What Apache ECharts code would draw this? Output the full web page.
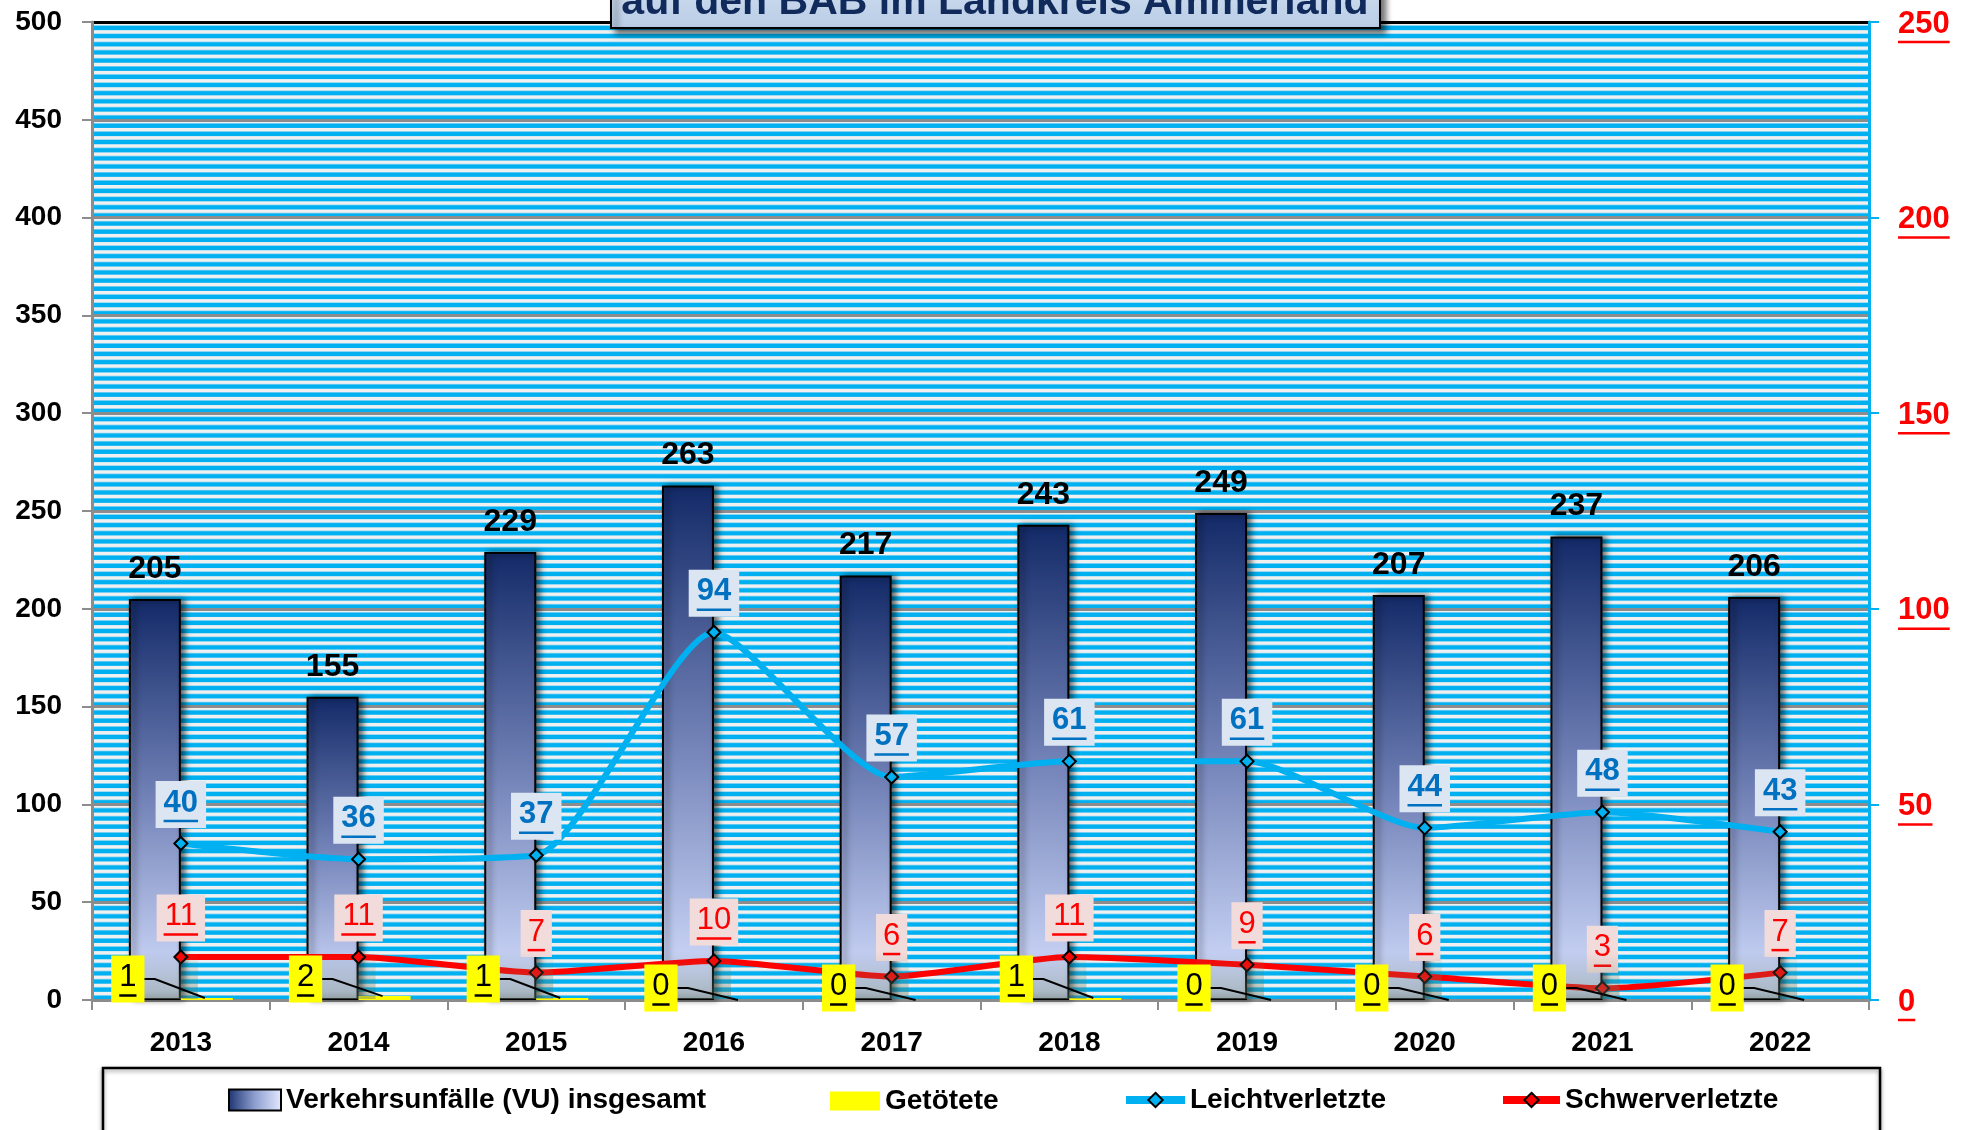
<!DOCTYPE html>
<html>
<head>
<meta charset="utf-8">
<title>Verkehrsunfälle BAB Ammerland</title>
<script src="https://cdn.jsdelivr.net/npm/echarts@6/dist/echarts.min.js"></script>
<style>
  html, body { margin: 0; padding: 0; background: #fff; }
  #chart { width: 1968px; height: 1130px; }
</style>
</head>
<body>
<div id="chart"></div>
<script>
  // Daten
  var jahre = ['2013', '2014', '2015', '2016', '2017', '2018', '2019', '2020', '2021', '2022'];
  var unfaelle = [205, 155, 229, 263, 217, 243, 249, 207, 237, 206];
  var getoetete = [1, 2, 1, 0, 0, 1, 0, 0, 0, 0];
  var leichtverletzte = [40, 36, 37, 94, 57, 61, 61, 44, 48, 43];
  var schwerverletzte = [11, 11, 7, 10, 6, 11, 9, 6, 3, 7];
  // Achsen: links 0..500, rechts 0..250, Schritt 50
  var achseLinks = [0, 500];
  var achseRechts = [0, 250];
  var schritt = 50;

  var schrift = 'Liberation Sans, Arial, sans-serif';

  // Zeichenfläche (Plotbereich)
  var gx = 92, gy = 22, gw = 1968 - 92 - 99, gh = 1130 - 22 - 130;
  var balken = 52;

  // gestreifter Hintergrund wie im Excel-Muster
  var streifen = document.createElement('canvas');
  streifen.width = gw;
  streifen.height = gh;
  var ctx = streifen.getContext('2d');
  ctx.fillStyle = '#f0f0f0';
  ctx.fillRect(0, 0, gw, gh);
  var periode = gh / 120;
  for (var i = 0; i < 120; i++) {
    var y0 = i * periode;
    ctx.fillStyle = '#7fd3f3';
    ctx.fillRect(0, y0 + periode * 0.40, gw, periode * 0.1);
    ctx.fillStyle = '#00b0f0';
    ctx.fillRect(0, y0 + periode * 0.48, gw, periode * 0.52);
  }

  // Unterstrichene Zahlen über rich text
  function unterstrichen(farbe, gewicht) {
    var groesse = 31;
    var ziffer = groesse * 0.556;
    var basis = { height: 2.5, lineHeight: 6, backgroundColor: farbe, align: 'center' };
    return {
      t: { fontSize: groesse, fontWeight: gewicht || 'normal', fontFamily: schrift, color: farbe, lineHeight: 30, align: 'center' },
      u1: Object.assign({ width: ziffer }, basis),
      u2: Object.assign({ width: ziffer * 2 }, basis),
      u3: Object.assign({ width: ziffer * 3 }, basis)
    };
  }
  function mitStrich(v) {
    v = String(v);
    return '{t|' + v + '}\n{u' + v.length + '|}';
  }

  var gitterFarben = [];
  for (var k = 0; k <= achseLinks[1] / schritt; k++) {
    gitterFarben.push(k === achseLinks[1] / schritt ? '#000' : '#8c8c8c');
  }

  var legendeText = { fontSize: 28, fontWeight: 'bold', color: '#000', fontFamily: schrift };
  var gelbRich = unterstrichen('#000');

  var option = {
    animation: false,
    textStyle: { fontFamily: schrift },
    grid: { left: gx, right: 99, top: gy, bottom: 130, containLabel: false },
    graphic: [
      { type: 'image', z: -10, silent: true, style: { image: streifen, x: gx, y: gy, width: gw, height: gh } },
      {
        type: 'rect', z: 1, silent: true,
        shape: { x: 103, y: 1068, width: 1777, height: 100 },
        style: { fill: '#fff', stroke: '#000', lineWidth: 2.5, shadowBlur: 4, shadowOffsetY: 2, shadowColor: 'rgba(0,0,0,0.4)' }
      },
      {
        type: 'rect', z: 100, silent: true,
        shape: { x: 611, y: -60, width: 769, height: 88 },
        style: {
          fill: new echarts.graphic.LinearGradient(0, 0, 0, 1, [
            { offset: 0, color: '#e2eaf6' }, { offset: 1, color: '#b9cde6' }
          ]),
          stroke: '#000', lineWidth: 2,
          shadowBlur: 6, shadowOffsetX: 5, shadowOffsetY: 5, shadowColor: 'rgba(0,0,0,0.55)'
        }
      },
      {
        type: 'text', z: 101, silent: true, x: 995, y: 3,
        style: {
          text: 'auf den BAB im Landkreis Ammerland',
          fontSize: 41, fontWeight: 'bold', fontFamily: schrift, fill: '#102a5c',
          align: 'center', verticalAlign: 'middle'
        }
      }
    ],
    legend: [
      {
        data: ['Verkehrsunfälle (VU) insgesamt'], left: 223, top: 1081, itemWidth: 52, itemHeight: 21, icon: 'rect',
        itemStyle: {
          color: new echarts.graphic.LinearGradient(0, 0, 1, 0, [
            { offset: 0, color: '#1d3370' }, { offset: 0.5, color: '#8f9fd0' }, { offset: 1, color: '#e4eaff' }
          ]),
          borderColor: '#000', borderWidth: 2
        },
        textStyle: legendeText
      },
      { data: ['Getötete'], left: 825, top: 1082, itemWidth: 50, itemHeight: 19, icon: 'rect', textStyle: legendeText },
      { data: ['Leichtverletzte'], left: 1117, top: 1081, itemWidth: 59, itemHeight: 18, lineStyle: { width: 8 }, textStyle: legendeText },
      { data: ['Schwerverletzte'], left: 1494, top: 1081, itemWidth: 57, itemHeight: 18, lineStyle: { width: 8 }, textStyle: legendeText }
    ],
    xAxis: {
      type: 'category',
      data: jahre,
      axisLine: { lineStyle: { color: '#8c8c8c', width: 3 } },
      axisTick: { show: true, length: 10, lineStyle: { color: '#8c8c8c', width: 2 } },
      axisLabel: { fontSize: 28, fontWeight: 'bold', color: '#000', margin: 29 },
      splitLine: { show: false }
    },
    yAxis: [
      {
        type: 'value', min: achseLinks[0], max: achseLinks[1], interval: schritt,
        axisLine: { show: true, lineStyle: { color: '#8c8c8c', width: 3 } },
        axisTick: { show: true, length: 10, lineStyle: { color: '#8c8c8c', width: 2 } },
        axisLabel: { fontSize: 28, fontWeight: 'bold', color: '#000', margin: 30 },
        splitLine: { show: true, lineStyle: { color: gitterFarben, width: 3 } }
      },
      {
        type: 'value', min: achseRechts[0], max: achseRechts[1], interval: schritt, position: 'right',
        axisLine: { show: true, lineStyle: { color: '#00b0f0', width: 3 } },
        axisTick: { show: true, length: 10, lineStyle: { color: '#00b0f0', width: 2 } },
        axisLabel: { margin: 29, padding: [10, 0, 0, 0], formatter: mitStrich, rich: unterstrichen('#ff0000', 'bold') },
        splitLine: { show: false }
      }
    ],
    series: [
      {
        name: 'Verkehrsunfälle (VU) insgesamt',
        type: 'bar',
        data: unfaelle,
        barWidth: balken,
        barGap: '0%',
        itemStyle: {
          color: new echarts.graphic.LinearGradient(0, 0, 0, 1, [
            { offset: 0, color: '#132a68' },
            { offset: 0.5, color: '#7383b8' },
            { offset: 1, color: '#d6e0ff' }
          ]),
          borderColor: '#000', borderWidth: 2,
          shadowColor: 'rgba(0,0,0,0.55)', shadowBlur: 6, shadowOffsetX: 4
        },
        label: { show: true, position: 'top', distance: 14, fontSize: 32, fontWeight: 'bold', color: '#000' }
      },
      {
        name: 'Getötete',
        type: 'bar',
        data: getoetete,
        barWidth: balken,
        itemStyle: { color: '#ffff00' }
      },
      {
        // Beschriftung der Getöteten mit Führungslinie und Schatten
        name: 'Getötete Beschriftung',
        type: 'custom',
        silent: true,
        z: 7,
        data: getoetete.map(function (v, i) { return [i, v]; }),
        renderItem: function (params, api) {
          var idx = api.value(0);
          var v = api.value(1);
          var oben = api.coord([idx, v]);
          var null_ = api.coord([idx, 0]);
          var cx = oben[0];
          var lx = cx - balken - 1;
          var ly = null_[1] - (v > 0 ? 21 : 12);
          return {
            type: 'group',
            children: [
              {
                type: 'rect',
                shape: { x: cx - balken + 1, y: null_[1] - 48, width: balken + 16, height: 47 },
                style: {
                  fill: new echarts.graphic.LinearGradient(0, 0, 0, 1, [
                    { offset: 0, color: 'rgba(105,125,105,0)' },
                    { offset: 1, color: 'rgba(105,125,105,0.45)' }
                  ])
                }
              },
              {
                type: 'polyline',
                shape: { points: [[lx + 14, ly], [cx - 26, ly], [cx + balken / 2 - 2, oben[1]]] },
                style: { stroke: '#000', lineWidth: 2, fill: null }
              },
              {
                type: 'text', x: lx, y: ly,
                style: {
                  text: mitStrich(v), rich: gelbRich,
                  backgroundColor: '#ffff00', padding: [7, 8, 4, 8],
                  align: 'center', verticalAlign: 'middle'
                }
              }
            ]
          };
        }
      },
      {
        name: 'Leichtverletzte',
        type: 'line',
        yAxisIndex: 1,
        data: leichtverletzte,
        smooth: 0.2,
        symbol: 'diamond',
        symbolSize: 13,
        z: 5,
        lineStyle: { color: '#00b0f0', width: 6 },
        itemStyle: { color: '#00b0f0', borderColor: '#000', borderWidth: 2 },
        label: {
          show: true, position: 'top', distance: 8,
          backgroundColor: '#dce6f2', padding: [7, 8, 4, 8],
          formatter: function (p) { return mitStrich(p.value); },
          rich: unterstrichen('#0070c0', 'bold')
        }
      },
      {
        name: 'Schwerverletzte',
        type: 'line',
        yAxisIndex: 1,
        data: schwerverletzte,
        smooth: 0.2,
        symbol: 'diamond',
        symbolSize: 13,
        z: 6,
        lineStyle: { color: '#ff0000', width: 6 },
        itemStyle: { color: '#ff0000', borderColor: '#000', borderWidth: 2 },
        label: {
          show: true, position: 'top', distance: 8,
          backgroundColor: '#f2dcdb', padding: [7, 7, 4, 7],
          formatter: function (p) { return mitStrich(p.value); },
          rich: unterstrichen('#ff0000')
        }
      }
    ]
  };

  var chart = echarts.init(document.getElementById('chart'));
  chart.setOption(option);
</script>
</body>
</html>
